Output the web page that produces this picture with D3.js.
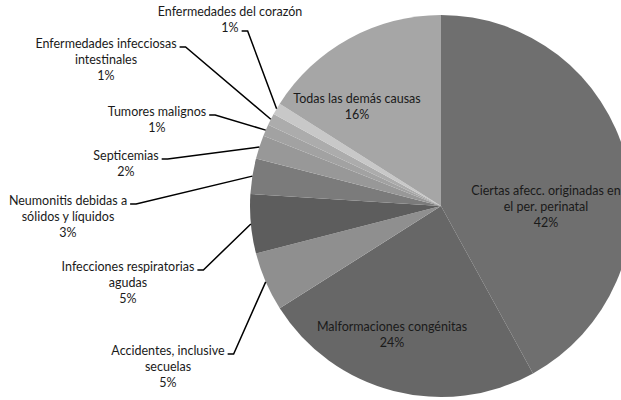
<!DOCTYPE html>
<html><head><meta charset="utf-8">
<script src="https://cdn.jsdelivr.net/npm/d3@7"></script>
<style>body{margin:0;background:#fff}svg{display:block}text{font-family:Lato,"Open Sans",sans-serif;font-size:12.5px;fill:#1a1a1a}</style>
</head><body><svg id="c" width="621" height="400"></svg>
<script>
const categories = ["Ciertas afecc. originadas en el per. perinatal","Malformaciones congénitas","Accidentes, inclusive secuelas","Infecciones respiratorias agudas","Neumonitis debidas a sólidos y líquidos","Septicemias","Tumores malignos","Enfermedades infecciosas intestinales","Enfermedades del corazón","Todas las demás causas"];
const values = [42,24,5,5,3,2,1,1,1,16];
const labelLines = [["Ciertas afecc. originadas en","el per. perinatal"],["Malformaciones congénitas"],["Accidentes, inclusive","secuelas"],["Infecciones respiratorias","agudas"],["Neumonitis debidas a","sólidos y líquidos"],["Septicemias"],["Tumores malignos"],["Enfermedades infecciosas","intestinales"],["Enfermedades del corazón"],["Todas las demás causas"]];
const colors = ["#6f6f6f","#676767","#8f8f8f","#5d5d5d","#7b7b7b","#989898","#a2a2a2","#acacac","#c8c8c8","#a6a6a6"];
// layout: label centre, and which line the leader attaches to
const layout = [
  {inside:true, x:546, y:191},
  {inside:true, x:392, y:327},
  {x:168, y:351, line:0},
  {x:128, y:267, line:0},
  {x:68, y:201, line:0},
  {x:126, y:156, line:0},
  {x:157, y:112, line:0},
  {x:106, y:44, line:0},
  {x:230, y:12, line:1},
  {inside:true, x:357, y:99}
];
const cx=441, cy=206, r=191;
const svg=d3.select("#c");
const g=svg.append("g").attr("transform",`translate(${cx},${cy})`);
const pie=d3.pie().sort(null).value(d=>d)(values);
const arc=d3.arc().innerRadius(0).outerRadius(r);
g.selectAll("path").data(pie).join("path").attr("d",arc).attr("fill",(d,i)=>colors[i]);
const lh=16;
pie.forEach((d,i)=>{
  const L=layout[i];
  const lines=labelLines[i].concat([values[i]+"%"]);
  const t=svg.append("text").attr("text-anchor","middle");
  const spans=[];
  lines.forEach((s,k)=>{
    spans.push(t.append("tspan").attr("x", L.x).attr("y",L.y+k*lh+4).text(s));
  });
  if(!L.inside){
    const sp=spans[L.line];
    const w=sp.node().getComputedTextLength();
    const ex=+sp.attr("x")+w/2+3, ey=L.y+L.line*lh+3;
    const a=(d.startAngle+d.endAngle)/2;
    const px=cx+Math.sin(a)*r, py=cy-Math.cos(a)*r;
    svg.append("path").attr("d",`M${ex},${ey}L${ex+6},${ey}L${px},${py}`)
      .attr("fill","none").attr("stroke","#000").attr("stroke-width",1.5);
  }
});
</script></body></html>
